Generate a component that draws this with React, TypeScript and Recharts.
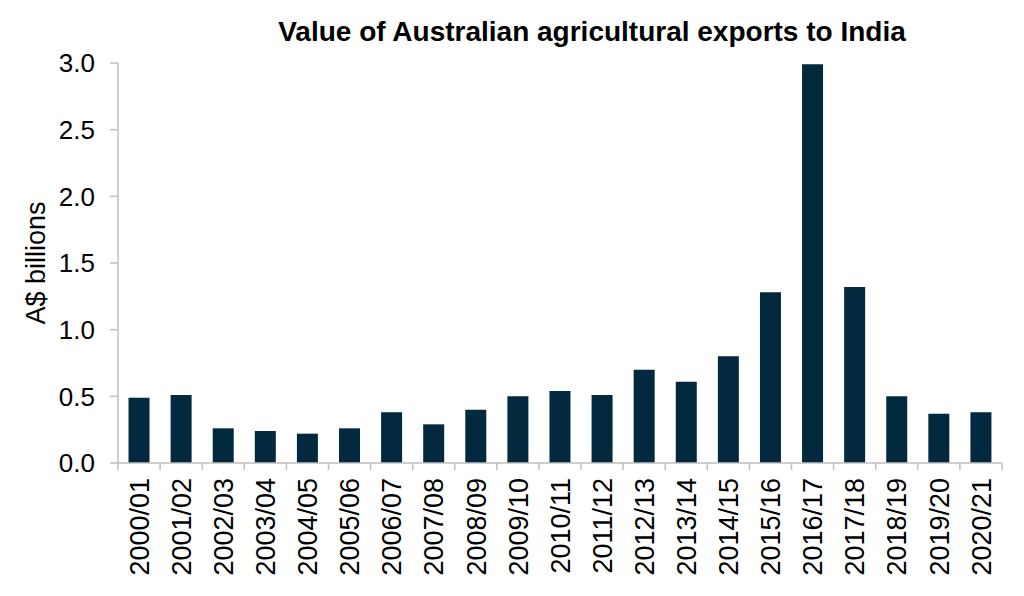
import React from "react";
import { BarChart, Bar, XAxis, YAxis } from "recharts";

const categories = [
  "2000/01", "2001/02", "2002/03", "2003/04", "2004/05", "2005/06", "2006/07",
  "2007/08", "2008/09", "2009/10", "2010/11", "2011/12", "2012/13", "2013/14",
  "2014/15", "2015/16", "2016/17", "2017/18", "2018/19", "2019/20", "2020/21",
];
const exportValues = [
  0.49, 0.51, 0.26, 0.24, 0.22, 0.26, 0.38, 0.29, 0.4, 0.5, 0.54, 0.51, 0.7,
  0.61, 0.8, 1.28, 2.99, 1.32, 0.5, 0.37, 0.38,
];
const yTicks = [0, 0.5, 1.0, 1.5, 2.0, 2.5, 3.0];

const data = categories.map((c, i) => ({ year: c, value: exportValues[i] }));

const FONT = "'Liberation Sans', Arial, Helvetica, sans-serif";
const AXIS = "#bfbfbf";
const BAR = "#03293f";

const XTick = (props: any) => {
  const { x, y, payload, index } = props;
  const off = payload.offset || 0;
  const last = index === categories.length - 1;
  return (
    <g>
      <line x1={x - off} x2={x - off} y1={y - 8} y2={y - 1} stroke={AXIS} strokeWidth={1.5} />
      {last && (
        <line x1={x + off} x2={x + off} y1={y - 8} y2={y - 1} stroke={AXIS} strokeWidth={1.5} />
      )}
      <text
        x={0}
        y={0}
        transform={`translate(${x},${y + 7}) rotate(-90)`}
        textAnchor="end"
        dy="0.36em"
        fontSize={27}
        fontFamily={FONT}
        fill="#000"
      >
        {payload.value}
      </text>
    </g>
  );
};

export default function App() {
  return (
    <div style={{ position: "absolute", left: 0, top: 0, width: 1024, height: 596, background: "#fff" }}>
      <div
        style={{
          position: "absolute",
          left: 0,
          width: 1184,
          top: 16,
          textAlign: "center",
          fontFamily: FONT,
          fontWeight: "bold",
          fontSize: 28,
          lineHeight: "32px",
          color: "#000",
        }}
      >
        Value of Australian agricultural exports to India
      </div>
      <div
        style={{
          position: "absolute",
          left: 36,
          top: 263,
          transform: "translate(-50%, -50%) rotate(-90deg)",
          whiteSpace: "nowrap",
          fontFamily: FONT,
          fontSize: 27,
          color: "#000",
        }}
      >
        A$ billions
      </div>
      <BarChart
        width={1024}
        height={596}
        data={data}
        margin={{ top: 63, right: 22, bottom: 0, left: 0 }}
        barCategoryGap="25%"
      >
        <XAxis
          dataKey="year"
          interval={0}
          height={133}
          stroke={AXIS}
          strokeWidth={1.5}
          tickLine={false}
          tick={<XTick />}
        />
        <YAxis
          domain={[0, 3]}
          ticks={yTicks}
          width={118}
          stroke={AXIS}
          strokeWidth={1.5}
          tickSize={8}
          tickMargin={15}
          tickFormatter={(v: number) => v.toFixed(1)}
          tick={{ fontSize: 26, fontFamily: FONT, fill: "#000" }}
        />
        <Bar dataKey="value" fill={BAR} isAnimationActive={false} />
      </BarChart>
    </div>
  );
}
